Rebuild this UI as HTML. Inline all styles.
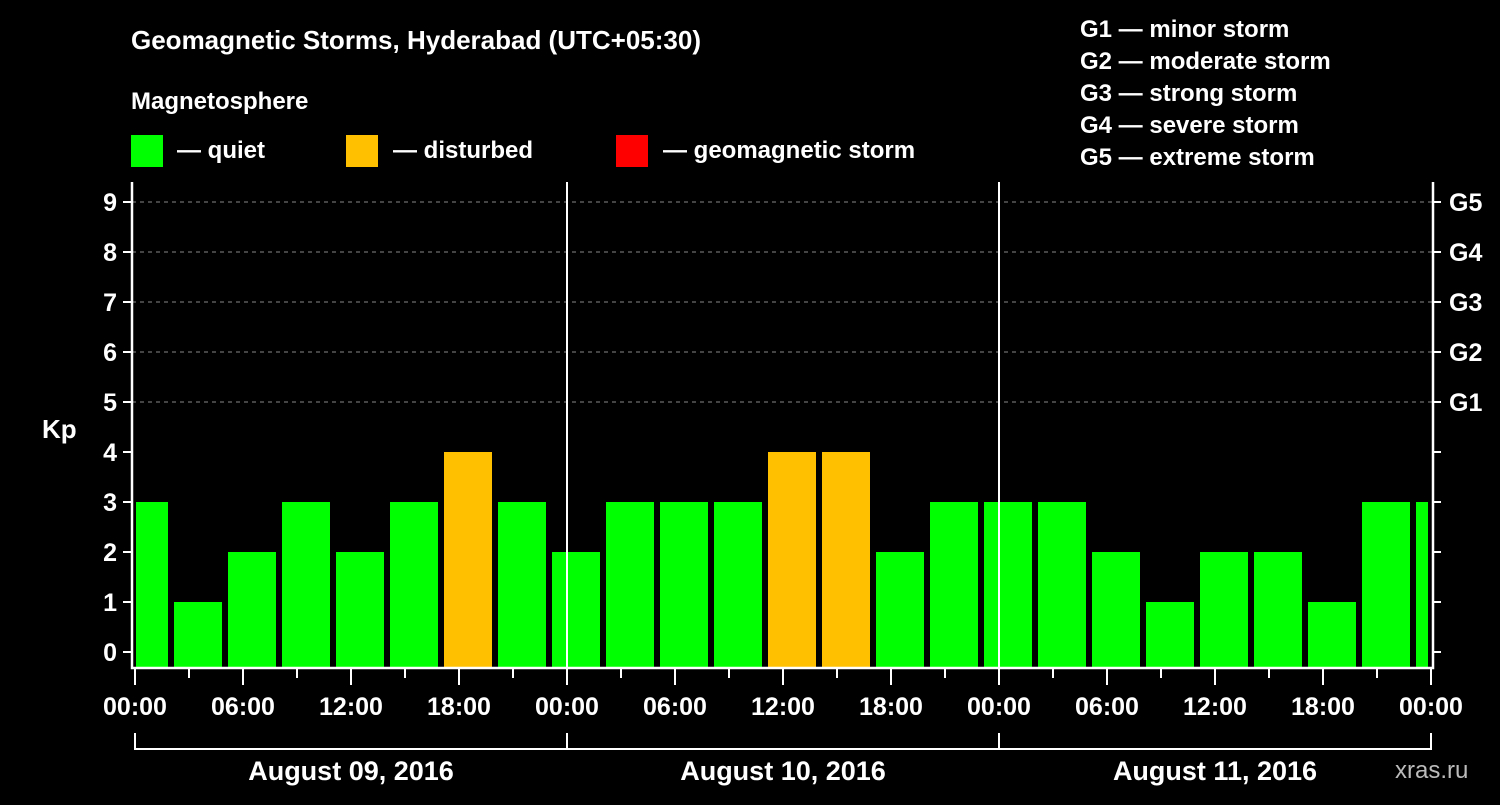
<!DOCTYPE html>
<html><head><meta charset="utf-8"><style>
body{margin:0;background:#000;}
svg text{font-family:"Liberation Sans",Arial,sans-serif;font-weight:bold;fill:#fff;}
</style></head><body>
<svg id="chart" width="1500" height="800" xmlns="http://www.w3.org/2000/svg">
<rect width="1500" height="800" fill="#000"/>
<text x="131" y="49" font-size="26">Geomagnetic Storms, Hyderabad (UTC+05:30)</text>
<text x="131" y="109" font-size="24">Magnetosphere</text>
<g>
<rect x="131" y="135" width="32" height="32" fill="#00ff00"/>
<text x="177" y="158" font-size="24">— quiet</text>
<rect x="346" y="135" width="32" height="32" fill="#ffc000"/>
<text x="393" y="158" font-size="24">— disturbed</text>
<rect x="616" y="135" width="32" height="32" fill="#ff0000"/>
<text x="663" y="158" font-size="24">— geomagnetic storm</text>
</g>
<g font-size="24">
<text x="1080" y="37">G1 — minor storm</text>
<text x="1080" y="69">G2 — moderate storm</text>
<text x="1080" y="101">G3 — strong storm</text>
<text x="1080" y="133">G4 — severe storm</text>
<text x="1080" y="165">G5 — extreme storm</text>
</g>
<text x="42" y="438" font-size="26">Kp</text>
<text x="1395" y="778" font-size="24" fill="#bbb" style="fill:#bbb;font-weight:normal">xras.ru</text>
<g id="marks"></g>
</svg>
<script>
const kpValues = [3,1,2,3,2,3,4,3, 2,3,3,3,4,4,2,3, 3,3,2,1,2,2,1,3,3];
const yTicks = [0,1,2,3,4,5,6,7,8,9];
const gLabels = ["G1","G2","G3","G4","G5"];
const xLabels = ["00:00","06:00","12:00","18:00","00:00","06:00","12:00","18:00","00:00","06:00","12:00","18:00","00:00"];
const dayLabels = ["August 09, 2016","August 10, 2016","August 11, 2016"];

const NS="http://www.w3.org/2000/svg";
const g=document.getElementById('marks');
const X0=135, X1=1431, PL=132, PR=1433, PT=182, PB=668;
const hourPx=(X1-X0)/72;
const xScale=h=>X0+h*hourPx;
const yScale=v=>652-v*50;
function el(tag,attrs,parent){const e=document.createElementNS(NS,tag);for(const k in attrs)e.setAttribute(k,attrs[k]);(parent||g).appendChild(e);return e;}

// grid lines 5..9
yTicks.filter(v=>v>=5).forEach(v=>{
 const l=el('line',{x1:PL,x2:PR,y1:yScale(v),y2:yScale(v),stroke:'#888','stroke-dasharray':'4,4','stroke-width':1});
 
 
});
// bars
kpValues.forEach((v,i)=>{
 let x=xScale(i*3)-15, w=48;
 let l=Math.max(x,136), r=Math.min(x+w,1428);
 const b=el('rect',{x:l,y:yScale(v),width:r-l,height:667-yScale(v),fill:v>=5?'#ff0000':(v>=4?'#ffc000':'#00ff00')});
 
 
});
// day dividers
[1,2].forEach(d=>{
 const l=el('line',{x1:xScale(d*24),x2:xScale(d*24),y1:PT,y2:PB,stroke:'#fff','stroke-width':2});
 
 
});
// frame
const f=el('path',{d:`M${PL} ${PT} V${PB} H${PR} V${PT}`,fill:'none',stroke:'#fff','stroke-width':2.5});


// y ticks
yTicks.forEach(v=>{
 const y=yScale(v);
 el('line',{x1:PL-9,x2:PL,y1:y,y2:y,stroke:'#fff','stroke-width':2});
 el('line',{x1:PR,x2:PR+8,y1:y,y2:y,stroke:'#fff','stroke-width':2});
 const t=el('text',{x:117,y:y+9,'font-size':25,'text-anchor':'end'});t.textContent=v;
 
 
});
gLabels.forEach((s,i)=>{
 const t=el('text',{x:1449,y:yScale(5+i)+9,'font-size':25});t.textContent=s;
 
 
});
// x ticks
for(let h=0;h<=72;h+=3){
 const x=xScale(h);
 el('line',{x1:x,x2:x,y1:PB,y2:PB+(h%6===0?17:10),stroke:'#fff','stroke-width':2});
}
xLabels.forEach((s,i)=>{
 const t=el('text',{x:xScale(i*6),y:715,'font-size':25,'text-anchor':'middle'});t.textContent=s;
 
 
});
// day bracket
el('line',{x1:X0,x2:X1,y1:749,y2:749,stroke:'#fff','stroke-width':2});
for(let d=0;d<=3;d++) el('line',{x1:xScale(d*24),x2:xScale(d*24),y1:733,y2:750,stroke:'#fff','stroke-width':2});
dayLabels.forEach((s,i)=>{
 const t=el('text',{x:xScale(i*24+12),y:780,'font-size':27,'text-anchor':'middle'});t.textContent=s;
 
 
});
</script>
</body></html>
